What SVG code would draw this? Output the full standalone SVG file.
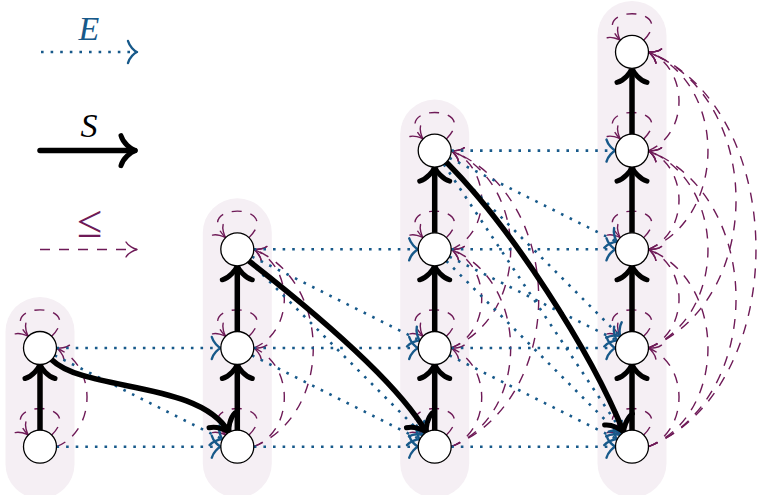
<svg xmlns="http://www.w3.org/2000/svg" width="760" height="495" viewBox="0 0 760 495">
<style>
.pill{fill:#f5eff4;stroke:none}
.node{fill:#ffffff;stroke:#000000;stroke-width:1.3}
.E{fill:none;stroke:#17598a;stroke-width:2.6;stroke-dasharray:2.6 7;marker-end:url(#mE)}
.S{fill:none;stroke:#000000;stroke-width:5.5;stroke-linecap:round;marker-end:url(#mS)}
.L{fill:none;stroke:#6e1a57;stroke-width:1.4;stroke-dasharray:10 9;marker-end:url(#mL)}
.lbl{font-family:'Liberation Serif','DejaVu Serif',serif;font-size:34px;text-anchor:middle}
</style>
<defs>
<marker id="mE" markerUnits="userSpaceOnUse" orient="auto" markerWidth="40" markerHeight="40" viewBox="-20 -20 40 40" refX="0" refY="0" overflow="visible">
<path d="M-9,-11 C-7.5,-5.5 -2.5,-1 0,0 C-2.5,1 -7.5,5.5 -9,11" fill="none" stroke="#17598a" stroke-width="2.4" stroke-dasharray="none" stroke-linecap="round" stroke-linejoin="round"/>
</marker>
<marker id="mS" markerUnits="userSpaceOnUse" orient="auto" markerWidth="40" markerHeight="40" viewBox="-20 -20 40 40" refX="0" refY="0" overflow="visible">
<path d="M-14,-15 C-12,-7.5 -4,-1.5 0,0 C-4,1.5 -12,7.5 -14,15" fill="none" stroke="#000000" stroke-width="5" stroke-dasharray="none" stroke-linecap="round" stroke-linejoin="round"/>
</marker>
<marker id="mL" markerUnits="userSpaceOnUse" orient="auto" markerWidth="40" markerHeight="40" viewBox="-20 -20 40 40" refX="0" refY="0" overflow="visible">
<path d="M-11,-7.5 C-9,-3.8 -3,-0.8 0,0 C-3,0.8 -9,3.8 -11,7.5" fill="none" stroke="#6e1a57" stroke-width="1.4" stroke-dasharray="none" stroke-linecap="round" stroke-linejoin="round"/>
</marker>
</defs>

<g id="backgrounds">
<rect class="pill" x="5.5" y="297" width="69" height="201.7" rx="34.5"/>
<rect class="pill" x="202.8" y="198.3" width="69" height="299.4" rx="34.5"/>
<rect class="pill" x="400.2" y="99.6" width="69" height="398.1" rx="34.5"/>
<rect class="pill" x="597.5" y="0.9" width="69" height="496.8" rx="34.5"/>
</g>

<g id="legend">
<text class="lbl" x="89" y="40" fill="#17598a" font-style="italic">E</text>
<path class="E" d="M41,52 L137,52"/>
<text class="lbl" x="89" y="137" fill="#000000" font-style="italic">S</text>
<path class="S" d="M40,150.6 L135,150.6"/>
<text class="lbl" x="89.5" y="237" fill="#6e1a57" style="font-size:46px">≤</text>
<path class="L" d="M40,249.5 L137,249.5"/>
</g>

<g id="connectors">
<g id="leq-loops">
<path class="L" d="M51.67,435.03 C87,399.7 -7,399.7 28.33,435.03"/>
<path class="L" d="M51.67,336.33 C87,301 -7,301 28.33,336.33"/>
<path class="L" d="M248.97,435.03 C284.3,399.7 190.3,399.7 225.63,435.03"/>
<path class="L" d="M248.97,336.33 C284.3,301 190.3,301 225.63,336.33"/>
<path class="L" d="M248.97,237.63 C284.3,202.3 190.3,202.3 225.63,237.63"/>
<path class="L" d="M446.37,435.03 C481.7,399.7 387.7,399.7 423.03,435.03"/>
<path class="L" d="M446.37,336.33 C481.7,301 387.7,301 423.03,336.33"/>
<path class="L" d="M446.37,237.63 C481.7,202.3 387.7,202.3 423.03,237.63"/>
<path class="L" d="M446.37,138.93 C481.7,103.6 387.7,103.6 423.03,138.93"/>
<path class="L" d="M643.67,435.03 C679,399.7 585,399.7 620.33,435.03"/>
<path class="L" d="M643.67,336.33 C679,301 585,301 620.33,336.33"/>
<path class="L" d="M643.67,237.63 C679,202.3 585,202.3 620.33,237.63"/>
<path class="L" d="M643.67,138.93 C679,103.6 585,103.6 620.33,138.93"/>
<path class="L" d="M643.67,40.23 C679,4.9 585,4.9 620.33,40.23"/>
</g>
<g id="leq-arcs">
<path class="L" d="M56.5,446.7 C97.2,430.3 97.2,364.4 56.5,348"/>
<path class="L" d="M253.8,446.7 C294.5,430.3 294.5,364.4 253.8,348"/>
<path class="L" d="M253.8,348 C294.5,331.6 294.5,265.7 253.8,249.3"/>
<path class="L" d="M253.8,446.7 C333.1,414.6 333.1,281.4 253.8,249.3"/>
<path class="L" d="M451.2,446.7 C491.9,430.3 491.9,364.4 451.2,348"/>
<path class="L" d="M451.2,348 C491.9,331.6 491.9,265.7 451.2,249.3"/>
<path class="L" d="M451.2,249.3 C491.9,232.9 491.9,167 451.2,150.6"/>
<path class="L" d="M451.2,446.7 C530.5,414.6 530.5,281.4 451.2,249.3"/>
<path class="L" d="M451.2,348 C530.5,315.9 530.5,182.7 451.2,150.6"/>
<path class="L" d="M451.2,446.7 C567.9,399.5 567.9,197.8 451.2,150.6"/>
<path class="L" d="M648.5,446.7 C689.2,430.3 689.2,364.4 648.5,348"/>
<path class="L" d="M648.5,348 C689.2,331.6 689.2,265.7 648.5,249.3"/>
<path class="L" d="M648.5,249.3 C689.2,232.9 689.2,167 648.5,150.6"/>
<path class="L" d="M648.5,150.6 C689.2,134.2 689.2,68.3 648.5,51.9"/>
<path class="L" d="M648.5,446.7 C727.8,414.6 727.8,281.4 648.5,249.3"/>
<path class="L" d="M648.5,348 C727.8,315.9 727.8,182.7 648.5,150.6"/>
<path class="L" d="M648.5,249.3 C727.8,217.2 727.8,84 648.5,51.9"/>
<path class="L" d="M648.5,446.7 C765.2,399.5 765.2,197.8 648.5,150.6"/>
<path class="L" d="M648.5,348 C765.2,300.8 765.2,99.1 648.5,51.9"/>
<path class="L" d="M648.5,446.7 C791.8,388.8 791.8,109.8 648.5,51.9"/>
</g>
<g id="E-edges">
<path class="E" d="M56.5,446.7 L220.8,446.7"/>
<path class="E" d="M56.5,348 L220.8,348"/>
<path class="E" d="M54.76,355.38 L222.54,439.32"/>
<path class="E" d="M253.8,446.7 L418.2,446.7"/>
<path class="E" d="M253.8,348 L418.2,348"/>
<path class="E" d="M253.8,249.3 L418.2,249.3"/>
<path class="E" d="M252.06,355.38 L419.94,439.32"/>
<path class="E" d="M252.06,256.68 L419.94,340.62"/>
<path class="E" d="M248.96,260.97 L423.04,435.03"/>
<path class="E" d="M451.2,446.7 L615.5,446.7"/>
<path class="E" d="M451.2,348 L615.5,348"/>
<path class="E" d="M451.2,249.3 L615.5,249.3"/>
<path class="E" d="M451.2,150.6 L615.5,150.6"/>
<path class="E" d="M449.46,355.38 L617.24,439.32"/>
<path class="E" d="M449.46,256.68 L617.24,340.62"/>
<path class="E" d="M449.46,157.98 L617.24,241.92"/>
<path class="E" d="M446.36,260.97 L620.34,435.03"/>
<path class="E" d="M446.36,162.27 L620.34,336.33"/>
<path class="E" d="M443.85,164.33 L622.85,432.97"/>
</g>
<g id="S-edges">
<path class="S" d="M40,430.2 L40,364.5"/>
<path class="S" d="M237.3,430.2 L237.3,364.5"/>
<path class="S" d="M237.3,331.5 L237.3,265.8"/>
<path class="S" d="M434.7,430.2 L434.7,364.5"/>
<path class="S" d="M434.7,331.5 L434.7,265.8"/>
<path class="S" d="M434.7,232.8 L434.7,167.1"/>
<path class="S" d="M632,430.2 L632,364.5"/>
<path class="S" d="M632,331.5 L632,265.8"/>
<path class="S" d="M632,232.8 L632,167.1"/>
<path class="S" d="M632,134.1 L632,68.4"/>
<path class="S" d="M51.67,359.67 C85,392 199.05,380.4 229.05,432.4"/>
<path class="S" d="M248.97,260.97 C304.1,304.1 396.45,380.4 426.45,432.4"/>
<path class="S" d="M446.37,162.27 C510,225.9 590,349 623.75,432.4"/>
</g>
</g>

<g id="nodes">
<g id="n1-0"><circle class="node" cx="40" cy="446.7" r="16.5"/></g>
<g id="n1-1"><circle class="node" cx="40" cy="348" r="16.5"/></g>
<g id="n2-0"><circle class="node" cx="237.3" cy="446.7" r="16.5"/></g>
<g id="n2-1"><circle class="node" cx="237.3" cy="348" r="16.5"/></g>
<g id="n2-2"><circle class="node" cx="237.3" cy="249.3" r="16.5"/></g>
<g id="n3-0"><circle class="node" cx="434.7" cy="446.7" r="16.5"/></g>
<g id="n3-1"><circle class="node" cx="434.7" cy="348" r="16.5"/></g>
<g id="n3-2"><circle class="node" cx="434.7" cy="249.3" r="16.5"/></g>
<g id="n3-3"><circle class="node" cx="434.7" cy="150.6" r="16.5"/></g>
<g id="n4-0"><circle class="node" cx="632" cy="446.7" r="16.5"/></g>
<g id="n4-1"><circle class="node" cx="632" cy="348" r="16.5"/></g>
<g id="n4-2"><circle class="node" cx="632" cy="249.3" r="16.5"/></g>
<g id="n4-3"><circle class="node" cx="632" cy="150.6" r="16.5"/></g>
<g id="n4-4"><circle class="node" cx="632" cy="51.9" r="16.5"/></g>
</g>
</svg>
